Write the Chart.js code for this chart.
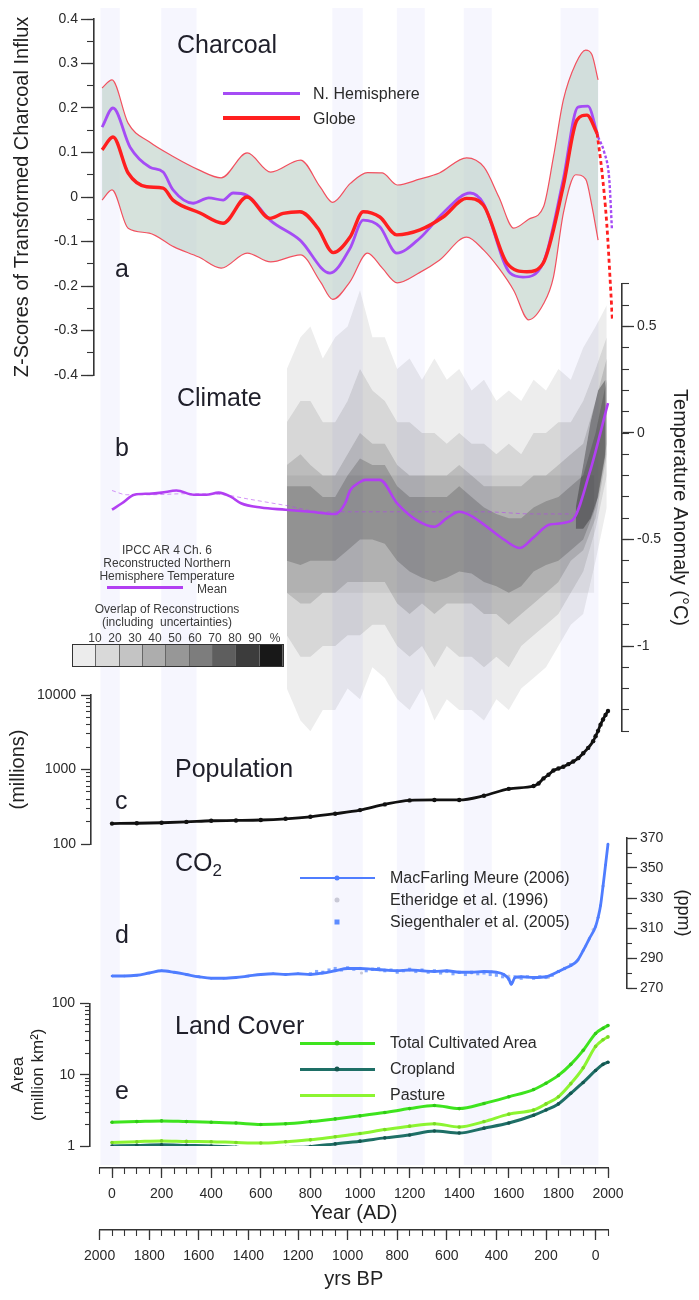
<!DOCTYPE html>
<html>
<head>
<meta charset="utf-8">
<title>Charcoal, climate, population, CO2 and land cover, 0-2000 AD</title>
<script src="https://cdn.jsdelivr.net/npm/chart.js@4.4.1/dist/chart.umd.min.js"></script>
<style>
  body { margin: 0; background: #fff; }
  #fig { position: relative; width: 699px; height: 1300px; overflow: hidden;
         font-family: "Liberation Sans", Arial, sans-serif; color: #1f1f2a; }
  #fig canvas { position: absolute; left: 0; }
  .t { position: absolute; white-space: nowrap; line-height: 1; transform: translateY(-50%); z-index: 5; }
  .big { font-size: 25px; }
  .leg { font-size: 16px; color: #2a2a2a; }
  .small { font-size: 12px; color: #3a3a3a; transform: translate(-50%, -50%); }
  .sw { position: absolute; z-index: 5; }
  .dot { position: absolute; z-index: 6; width: 5px; height: 5px; border-radius: 50%; transform: translate(-50%, -50%); }
  #bar { position: absolute; left: 72px; top: 644px; width: 210px; height: 21px; border: 1px solid #333; display: flex; z-index: 5; }
  #bar span { flex: 1; border-right: 1px solid #666; }
</style>
</head>
<body>
<div id="fig">
  <!-- panel titles and letters -->
  <div class="t big" style="left:177px; top:44px">Charcoal</div>
  <div class="t big" style="left:115px; top:268px">a</div>
  <div class="t big" style="left:177px; top:397px">Climate</div>
  <div class="t big" style="left:115px; top:447px">b</div>
  <div class="t big" style="left:175px; top:768px">Population</div>
  <div class="t big" style="left:115px; top:800px">c</div>
  <div class="t big" style="left:175px; top:864px">CO<sub style="font-size:17px; vertical-align:-5px">2</sub></div>
  <div class="t big" style="left:115px; top:934px">d</div>
  <div class="t big" style="left:175px; top:1025px">Land Cover</div>
  <div class="t big" style="left:115px; top:1090px">e</div>

  <!-- charcoal legend -->
  <div class="sw" style="left:223px; top:92px; width:77px; height:3px; background:#a54cf5"></div>
  <div class="t leg" style="left:313px; top:94px">N. Hemisphere</div>
  <div class="sw" style="left:223px; top:116px; width:77px; height:4px; background:#ff1f1f"></div>
  <div class="t leg" style="left:313px; top:119px">Globe</div>

  <!-- climate legend -->
  <div class="t small" style="left:167px; top:550px">IPCC AR 4 Ch. 6</div>
  <div class="t small" style="left:167px; top:563px">Reconstructed Northern</div>
  <div class="t small" style="left:167px; top:576px">Hemisphere Temperature</div>
  <div class="sw" style="left:107px; top:586px; width:76px; height:3px; background:#b23ff2"></div>
  <div class="t small" style="left:212px; top:589px">Mean</div>
  <div class="t small" style="left:167px; top:609px">Overlap of Reconstructions</div>
  <div class="t small" style="left:167px; top:622px">(including&nbsp; uncertainties)</div>
  <div id="barLabels"></div>
  <div id="bar"></div>

  <!-- CO2 legend -->
  <div class="sw" style="left:300px; top:877px; width:75px; height:2px; background:#4f7dff"></div>
  <div class="dot" style="left:337px; top:878px; background:#4f7dff"></div>
  <div class="t leg" style="left:390px; top:878px">MacFarling Meure (2006)</div>
  <div class="dot" style="left:337px; top:900px; background:#c9c9d6"></div>
  <div class="t leg" style="left:390px; top:900px">Etheridge et al. (1996)</div>
  <div class="dot" style="left:337px; top:922px; background:#5d8cff; border-radius:0"></div>
  <div class="t leg" style="left:390px; top:922px">Siegenthaler et al. (2005)</div>

  <!-- land cover legend -->
  <div class="sw" style="left:300px; top:1042px; width:75px; height:3px; background:#3ee41e"></div>
  <div class="dot" style="left:337px; top:1043px; background:#32c818"></div>
  <div class="t leg" style="left:390px; top:1043px">Total Cultivated Area</div>
  <div class="sw" style="left:300px; top:1068px; width:75px; height:3px; background:#1e6f66"></div>
  <div class="dot" style="left:337px; top:1069px; background:#14564f"></div>
  <div class="t leg" style="left:390px; top:1069px">Cropland</div>
  <div class="sw" style="left:300px; top:1094px; width:75px; height:3px; background:#8cf531"></div>
  <div class="t leg" style="left:390px; top:1095px">Pasture</div>
</div>

<script>
// shared horizontal mapping: year 0 AD at x = 112 px, 0.248 px per year
const X0 = 112, PXY = 0.248, W = 699;
const yearAt = px => (px - X0) / PXY;
const FONT = '"Liberation Sans", Arial, sans-serif';
const AXIS = '#353535';

// ---------- (a) charcoal ----------
const bandYears = [-40, 0, 65, 150, 250, 350, 440, 545, 640, 760, 840, 890, 960, 1030, 1090, 1150, 1240, 1320, 1430, 1500, 1560, 1620, 1680, 1740, 1780, 1820, 1870, 1910, 1935, 1960];
const bandUpper = [0.245, 0.263, 0.166, 0.124, 0.09, 0.061, 0.043, 0.099, 0.056, 0.083, 0.022, -0.012, 0.03, 0.055, 0.054, 0.027, 0.04, 0.054, 0.088, 0.067, 0.0, -0.07, -0.05, -0.022, 0.09, 0.218, 0.3, 0.33, 0.32, 0.263];
const bandLower = [-0.007, 0.016, -0.07, -0.081, -0.112, -0.135, -0.16, -0.126, -0.146, -0.13, -0.19, -0.23, -0.19, -0.126, -0.16, -0.193, -0.17, -0.142, -0.09, -0.12, -0.16, -0.21, -0.276, -0.24, -0.18, -0.036, 0.05, 0.04, -0.02, -0.097];
const globeYears = [-40, 4, 65, 140, 206, 246, 355, 448, 544, 637, 690, 758, 830, 892, 960, 1013, 1080, 1148, 1242, 1335, 1430, 1497, 1593, 1673, 1738, 1819, 1875, 1915, 1956];
const globeValues = [0.106, 0.135, 0.054, 0.023, 0.02, -0.007, -0.036, -0.059, 0.0, -0.048, -0.037, -0.033, -0.07, -0.125, -0.09, -0.033, -0.045, -0.085, -0.074, -0.045, -0.003, -0.018, -0.149, -0.168, -0.149, 0.023, 0.173, 0.184, 0.143];
const globeTailYears = [1956, 1975, 1995, 2010, 2018];
const globeTailValues = [0.143, 0.06, -0.06, -0.2, -0.28];
const nhYears = [-40, 4, 73, 153, 206, 246, 327, 390, 448, 488, 544, 637, 758, 879, 960, 1013, 1080, 1148, 1242, 1335, 1444, 1497, 1605, 1657, 1738, 1819, 1879, 1919, 1960];
const nhValues = [0.157, 0.2, 0.112, 0.067, 0.056, 0.016, -0.014, -0.002, -0.007, 0.009, 0.004, -0.052, -0.097, -0.171, -0.115, -0.052, -0.067, -0.126, -0.092, -0.036, 0.009, -0.014, -0.171, -0.18, -0.149, 0.038, 0.202, 0.204, 0.135];
const nhTailYears = [1960, 1985, 2005, 2016];
const nhTailValues = [0.135, 0.1, 0.04, -0.074];
const charcoalTicks = [-0.4, -0.3, -0.2, -0.1, 0, 0.1, 0.2, 0.3, 0.4];

// ---------- (b) climate ----------
const meanYears = [0, 40, 90, 150, 200, 260, 330, 380, 430, 480, 520, 600, 700, 800, 900, 940, 960, 1000, 1020, 1080, 1150, 1230, 1300, 1350, 1400, 1450, 1500, 1580, 1645, 1700, 1765, 1855, 1925, 2000];
const meanValues = [-0.36, -0.33, -0.29, -0.285, -0.28, -0.27, -0.29, -0.29, -0.28, -0.3, -0.33, -0.35, -0.36, -0.37, -0.38, -0.33, -0.27, -0.23, -0.22, -0.22, -0.33, -0.41, -0.44, -0.4, -0.37, -0.39, -0.43, -0.5, -0.54, -0.49, -0.43, -0.41, -0.19, 0.14];
const refYears = [0, 60, 150, 300, 450, 550, 700, 850, 960, 1200, 1500, 1700, 1860];
const refValues = [-0.27, -0.29, -0.29, -0.285, -0.29, -0.31, -0.34, -0.37, -0.37, -0.37, -0.37, -0.38, -0.38];
const shadeYears = [705, 760, 800, 850, 900, 950, 1000, 1050, 1100, 1150, 1200, 1250, 1300, 1350, 1400, 1450, 1500, 1550, 1600, 1650, 1700, 1750, 1800, 1850, 1900, 1950, 1995];
const shade1Hi = [0.3, 0.45, 0.5, 0.35, 0.45, 0.5, 0.67, 0.45, 0.45, 0.3, 0.35, 0.25, 0.35, 0.25, 0.3, 0.2, 0.25, 0.15, 0.2, 0.15, 0.25, 0.2, 0.3, 0.25, 0.4, 0.5, 0.6];
const shade1Lo = [-1.2, -1.35, -1.4, -1.3, -1.3, -1.2, -1.25, -1.1, -1.15, -1.25, -1.3, -1.2, -1.35, -1.25, -1.3, -1.3, -1.35, -1.25, -1.3, -1.2, -1.15, -1.1, -1.0, -0.9, -0.85, -0.6, -0.35];
const shade2Hi = [0.05, 0.15, 0.15, 0.05, 0.05, 0.15, 0.3, 0.2, 0.15, 0.05, 0.05, 0.0, 0.0, -0.05, 0.0, -0.05, -0.05, -0.1, -0.05, -0.1, 0.0, 0.0, 0.05, 0.05, 0.15, 0.3, 0.45];
const shade2Lo = [-0.95, -1.05, -1.05, -1.0, -1.0, -0.95, -0.95, -0.9, -0.9, -1.0, -1.05, -1.0, -1.1, -1.0, -1.05, -1.05, -1.1, -1.05, -1.1, -1.0, -0.95, -0.9, -0.85, -0.75, -0.65, -0.45, -0.2];
const shade3Hi = [-0.15, -0.1, -0.15, -0.2, -0.2, -0.1, 0.0, -0.05, -0.05, -0.15, -0.2, -0.2, -0.2, -0.2, -0.15, -0.2, -0.25, -0.25, -0.25, -0.25, -0.2, -0.2, -0.15, -0.1, -0.05, 0.15, 0.35];
const shade3Lo = [-0.75, -0.8, -0.8, -0.75, -0.75, -0.7, -0.7, -0.7, -0.7, -0.8, -0.85, -0.8, -0.85, -0.8, -0.8, -0.8, -0.85, -0.85, -0.9, -0.85, -0.8, -0.75, -0.7, -0.6, -0.55, -0.4, -0.1];
const shade4Hi = [-0.25, -0.25, -0.25, -0.3, -0.3, -0.2, -0.12, -0.15, -0.15, -0.25, -0.3, -0.3, -0.3, -0.3, -0.25, -0.3, -0.35, -0.38, -0.4, -0.4, -0.35, -0.32, -0.3, -0.25, -0.2, 0.0, 0.25];
const shade4Lo = [-0.6, -0.62, -0.6, -0.6, -0.6, -0.55, -0.5, -0.5, -0.52, -0.6, -0.65, -0.68, -0.7, -0.68, -0.65, -0.66, -0.7, -0.72, -0.75, -0.72, -0.65, -0.62, -0.6, -0.55, -0.5, -0.35, -0.05];
// darkest overlap just before 2000 AD
const coreYears = [1870, 1900, 1930, 1960, 1990];
const coreHi = [-0.35, -0.15, 0.05, 0.2, 0.25];
const coreLo = [-0.45, -0.45, -0.4, -0.3, -0.1];
// flat grey tone below -0.2 degC across the reconstruction period
const toneYears = [705, 1945];
const toneHi = [-0.2, -0.2];
const toneLo = [-0.75, -0.75];
const tempTicks = [-1, -0.5, 0, 0.5];
const overlapLabels = ['10', '20', '30', '40', '50', '60', '70', '80', '90', '%'];
const overlapGreys = ['#ececec', '#d9d9d9', '#c4c4c4', '#adadad', '#979797', '#7d7d7d', '#5e5e5e', '#3c3c3c', '#181818'];

// ---------- (c) population (millions) ----------
const popYears = [0, 100, 200, 300, 400, 500, 600, 700, 800, 900, 1000, 1100, 1200, 1300, 1400, 1500, 1600, 1700, 1720, 1740, 1760, 1780, 1800, 1820, 1840, 1860, 1880, 1900, 1920, 1940, 1950, 1960, 1970, 1980, 1990, 2000];
const popValues = [188, 190, 193, 198, 205, 207, 210, 218, 232, 255, 285, 340, 385, 390, 390, 445, 550, 600, 650, 760, 850, 970, 1030, 1090, 1180, 1280, 1420, 1650, 1950, 2400, 2800, 3300, 4000, 4700, 5400, 6100];
const popTicks = [100, 1000, 10000];
const popMinorTicks = [200, 300, 400, 500, 600, 700, 800, 900, 2000, 3000, 4000, 5000, 6000, 7000, 8000, 9000];

// ---------- (d) CO2 (ppm) ----------
const co2Years = [0, 50, 100, 150, 200, 250, 300, 350, 400, 450, 500, 550, 600, 650, 700, 750, 800, 850, 900, 950, 1000, 1050, 1100, 1150, 1200, 1250, 1300, 1350, 1400, 1450, 1500, 1550, 1580, 1600, 1610, 1625, 1650, 1700, 1750, 1800, 1825, 1850, 1875, 1900, 1925, 1950, 1960, 1970, 1980, 1990, 2000];
const co2Values = [278, 278, 278.5, 280, 281.5, 280.5, 279, 277.5, 276.5, 276.5, 277, 278, 279, 279.5, 279, 279.5, 279, 280, 281.5, 283, 283, 282.5, 282, 281.5, 282, 281.5, 281, 281.5, 280.5, 280.5, 281, 280.5, 279, 276, 272.5, 277, 277.5, 277, 277.5, 281, 283, 285, 288, 295, 303, 311, 317, 325, 338, 352, 366];
const siegYears = [800, 825, 850, 875, 900, 925, 950, 975, 1000, 1025, 1050, 1075, 1100, 1125, 1150, 1175, 1200, 1225, 1250, 1275, 1300, 1325, 1350, 1375, 1400, 1425, 1450, 1475, 1500, 1525, 1550, 1575, 1600, 1625, 1650, 1675, 1700, 1725, 1750, 1775, 1800, 1825, 1850];
const siegValues = [279.5, 281, 280.5, 282, 283, 282, 283.5, 282.5, 283, 281.5, 282.5, 283, 281.5, 282, 280.5, 281.5, 282.5, 281, 282, 280.5, 281.5, 280, 281, 279.5, 280.5, 279, 280.5, 279.5, 280, 279, 278.5, 277.5, 276, 277.5, 276.5, 277.5, 276.5, 277.5, 277, 278.5, 281, 283, 285.5];
const ethYears = [1006, 1080, 1200, 1330, 1450, 1530, 1600, 1640, 1700, 1760, 1800, 1850, 1880, 1910, 1940, 1960, 1980];
const ethValues = [280, 282, 282, 281, 280, 281, 278, 277, 277, 277, 281, 285, 289, 298, 309, 317, 338];
const co2Ticks = [270, 290, 310, 330, 350, 370];

// ---------- (e) land cover (million km2) ----------
const landYears = [0, 100, 200, 300, 400, 500, 600, 700, 800, 900, 1000, 1100, 1200, 1300, 1400, 1500, 1600, 1700, 1750, 1800, 1850, 1900, 1950, 1980, 2000];
const totalArea = [2.15, 2.2, 2.25, 2.2, 2.15, 2.1, 2.0, 2.05, 2.2, 2.4, 2.65, 2.95, 3.35, 3.7, 3.35, 3.95, 4.9, 6.2, 7.6, 9.8, 14, 22, 38, 45, 49];
const pastureArea = [1.12, 1.15, 1.18, 1.16, 1.15, 1.12, 1.1, 1.15, 1.22, 1.35, 1.5, 1.7, 1.9, 2.05, 1.85, 2.2, 2.8, 3.2, 3.9, 4.9, 7.5, 12.5, 25, 31, 34];
const croplandArea = [1.0, 1.02, 1.04, 1.02, 1.0, 0.96, 0.92, 0.95, 0.98, 1.07, 1.17, 1.3, 1.43, 1.62, 1.52, 1.78, 2.1, 2.7, 3.2, 3.9, 5.5, 7.8, 11.5, 14, 15];
const landTicks = [1, 10, 100];
const landMinorTicks = [2, 3, 4, 5, 6, 7, 8, 9, 20, 30, 40, 50, 60, 70, 80, 90];

// ---------- time axes and background stripes ----------
const yearTicks = [0, 200, 400, 600, 800, 1000, 1200, 1400, 1600, 1800, 2000];
const bpTicks = [2000, 1800, 1600, 1400, 1200, 1000, 800, 600, 400, 200, 0];
const stripeStart = [-45, 200, 890, 1150, 1420, 1810];
const stripeEnd = [30, 340, 1010, 1260, 1530, 1960];

// ---------- helpers ----------
const fig = document.getElementById('fig');
const xy = (xs, ys) => xs.map((x, i) => ({ x: x, y: ys[i] }));

function makeChart(top, height, config) {
  const c = document.createElement('canvas');
  c.width = W; c.height = height;
  c.style.width = W + 'px'; c.style.height = height + 'px';
  c.style.top = top + 'px';
  fig.appendChild(c);
  config.options = Object.assign({
    responsive: false, animation: false, devicePixelRatio: 1,
    plugins: { legend: { display: false }, tooltip: { enabled: false } }
  }, config.options);
  return new Chart(c.getContext('2d'), config);
}

function hiddenX(left, right) {
  return { type: 'linear', display: false, min: yearAt(left), max: yearAt(right) };
}

function majorAxis(o) {
  return {
    type: o.type || 'linear', position: o.position, min: o.min, max: o.max,
    reverse: !!o.reverse, weight: o.weight || 1,
    afterFit: s => { if (s.isHorizontal()) s.height = o.size; else s.width = o.size; },
    afterBuildTicks: s => { s.ticks = o.ticks.map(v => ({ value: v })); },
    ticks: { color: '#2a2a2a', font: { family: FONT, size: 14 }, padding: o.pad || 3, autoSkip: false, maxRotation: 0, callback: v => String(v) },
    grid: { drawOnChartArea: false, drawTicks: true, tickLength: o.tl, tickColor: AXIS, tickWidth: 1.3 },
    border: { display: true, color: AXIS, width: 1.6 },
    title: o.title ? { display: true, text: o.title, color: '#222', font: { family: FONT, size: o.titleSize || 20 }, padding: o.titlePad } : { display: false }
  };
}

function minorAxis(o) {
  const ax = {
    type: o.type || 'linear', position: o.position, min: o.min, max: o.max,
    reverse: !!o.reverse, weight: o.weight || 0,
    afterFit: s => { if (s.isHorizontal()) s.height = 0; else s.width = 0; },
    ticks: { display: false, stepSize: o.step },
    grid: { drawOnChartArea: false, drawTicks: true, tickLength: o.tl, tickColor: AXIS, tickWidth: 1.1 },
    border: { display: false }
  };
  if (o.list) ax.afterBuildTicks = s => { s.ticks = o.list.map(v => ({ value: v })); };
  return ax;
}

// order: datasets with a higher order are painted first (underneath)
function line(data, color, width, extra) {
  return Object.assign({ data: data, borderColor: color, borderWidth: width, pointRadius: 0, fill: false, cubicInterpolationMode: 'monotone', order: 0 }, extra || {});
}

// ---------- background stripes ----------
makeChart(0, 1300, {
  type: 'bar',
  data: {
    labels: ['stripes'],
    datasets: stripeStart.map((s, i) => ({ data: [[s, stripeEnd[i]]], backgroundColor: 'rgba(200,200,250,0.17)', borderWidth: 0, grouped: false, barPercentage: 1, categoryPercentage: 1 }))
  },
  options: {
    indexAxis: 'y',
    layout: { padding: { left: 0, right: 0, top: 8, bottom: 135 } },
    scales: { x: hiddenX(0, W), y: { type: 'category', display: false } }
  }
});

// ---------- (b) climate ----------
function shade(xs, hi, lo, alpha, order) {
  return [
    line(xy(xs, lo), 'rgba(0,0,0,0)', 0, { cubicInterpolationMode: 'default', tension: 0, order: order }),
    line(xy(xs, hi), 'rgba(0,0,0,0)', 0, { cubicInterpolationMode: 'default', tension: 0, order: order, fill: '-1', backgroundColor: 'rgba(20,20,20,' + alpha + ')' })
  ];
}
makeChart(250, 510, {
  type: 'line',
  data: {
    datasets: [].concat(
      shade(shadeYears, shade1Hi, shade1Lo, 0.08, 16),
      shade(shadeYears, shade2Hi, shade2Lo, 0.10, 15),
      shade(toneYears, toneHi, toneLo, 0.06, 14),
      shade(shadeYears, shade3Hi, shade3Lo, 0.14, 13),
      shade(shadeYears, shade4Hi, shade4Lo, 0.2, 12),
      shade(coreYears, coreHi, coreLo, 0.35, 11),
      [line(xy(refYears, refValues), 'rgba(178,63,242,0.55)', 1, { borderDash: [4, 3], order: 1 }),
       line(xy(meanYears, meanValues), '#b23ff2', 2.6, { order: 0 })]
    )
  },
  options: {
    layout: { padding: { left: 100, right: 0, top: 33.9, bottom: 28.8 } },
    scales: {
      x: hiddenX(100, 622),
      y: majorAxis({ position: 'right', min: -1.4, max: 0.7, ticks: tempTicks, size: 77, tl: 12, title: 'Temperature Anomaly (°C)', titlePad: { top: 7, bottom: 0 } }),
      ym: minorAxis({ position: 'right', min: -1.4, max: 0.7, step: 0.1, tl: 7 })
    }
  }
});

// ---------- (a) charcoal ----------
makeChart(0, 400, {
  type: 'line',
  data: {
    datasets: [
      line(xy(bandYears, bandLower), '#f2505f', 1.2, { order: 5 }),
      line(xy(bandYears, bandUpper), '#f2505f', 1.2, { order: 5, fill: '-1', backgroundColor: 'rgba(186,206,196,0.6)' }),
      line(xy(nhYears, nhValues), '#a54cf5', 2.8, { order: 1 }),
      line(xy(nhTailYears, nhTailValues), '#a54cf5', 2.4, { order: 1, borderDash: [3, 2] }),
      line(xy(globeYears, globeValues), '#ff1f1f', 3.4, { order: 0 }),
      line(xy(globeTailYears, globeTailValues), '#ff1f1f', 2.8, { order: 0, borderDash: [4, 3] })
    ]
  },
  options: {
    layout: { padding: { left: 0, right: W - 613, top: 19, bottom: 25 } },
    scales: {
      x: hiddenX(94, 613),
      y: majorAxis({ position: 'left', min: -0.4, max: 0.4, ticks: charcoalTicks, size: 94, tl: 13, title: 'Z-Scores of Transformed Charcoal Influx', titlePad: { top: 10, bottom: 0 } }),
      ym: minorAxis({ position: 'left', min: -0.4, max: 0.4, step: 0.05, tl: 7 })
    }
  }
});

// ---------- (c) population ----------
makeChart(670, 190, {
  type: 'line',
  data: {
    datasets: [line(xy(popYears, popValues), '#111', 2.8, { pointRadius: 2.2, pointBackgroundColor: '#111', pointBorderWidth: 0 })]
  },
  options: {
    layout: { padding: { left: 0, right: W - 613, top: 25, bottom: 16 } },
    scales: {
      x: hiddenX(91, 613),
      y: majorAxis({ type: 'logarithmic', position: 'left', min: 100, max: 10000, ticks: popTicks, size: 91, tl: 10, pad: 5, title: '(millions)', titlePad: { top: 6, bottom: 0 } }),
      ym: minorAxis({ type: 'logarithmic', position: 'left', min: 100, max: 10000, list: popMinorTicks, tl: 5 })
    }
  }
});

// ---------- (d) CO2 ----------
makeChart(820, 190, {
  type: 'line',
  data: {
    datasets: [
      line(xy(ethYears, ethValues), '#c9c9d6', 0, { order: 2, showLine: false, pointRadius: 1.6, pointBackgroundColor: '#c9c9d6', pointBorderWidth: 0 }),
      line(xy(siegYears, siegValues), '#6f9bff', 0, { order: 1, showLine: false, pointStyle: 'rect', pointRadius: 2.2, pointBackgroundColor: 'rgba(93,140,255,0.75)', pointBorderWidth: 0 }),
      line(xy(co2Years, co2Values), '#4f7dff', 2.8, { order: 0, pointRadius: 1.3, pointBackgroundColor: '#4f7dff', pointBorderWidth: 0 })
    ]
  },
  options: {
    layout: { padding: { left: 100, right: 0, top: 18, bottom: 22 } },
    scales: {
      x: hiddenX(100, 627),
      y: majorAxis({ position: 'right', min: 270, max: 370, ticks: co2Ticks, size: 72, tl: 10, title: '(ppm)', titleSize: 18, titlePad: { top: 5, bottom: 0 } }),
      ym: minorAxis({ position: 'right', min: 270, max: 370, step: 10, tl: 5 })
    }
  }
});

// ---------- (e) land cover ----------
makeChart(985, 180, {
  type: 'line',
  data: {
    datasets: [
      line(xy(landYears, croplandArea), '#1e6f66', 3, { pointRadius: 1.8, pointBackgroundColor: '#14564f', pointBorderWidth: 0 }),
      line(xy(landYears, pastureArea), '#8cf531', 3, { pointRadius: 1.8, pointBackgroundColor: '#7ad826', pointBorderWidth: 0 }),
      line(xy(landYears, totalArea), '#3ee41e', 3, { pointRadius: 1.8, pointBackgroundColor: '#32c818', pointBorderWidth: 0 })
    ]
  },
  options: {
    layout: { padding: { left: 0, right: W - 613, top: 18.5, bottom: 19 } },
    scales: {
      x: hiddenX(90, 613),
      y: majorAxis({ type: 'logarithmic', position: 'left', min: 1, max: 100, ticks: landTicks, size: 90, tl: 10, pad: 5, title: ['Area', '(million km²)'], titleSize: 17, titlePad: { top: 8, bottom: 0 } }),
      ym: minorAxis({ type: 'logarithmic', position: 'left', min: 1, max: 100, list: landMinorTicks, tl: 5 })
    }
  }
});

// ---------- time axes: Year (AD) and yrs BP ----------
makeChart(1150, 150, {
  type: 'line',
  data: { datasets: [] },
  options: {
    layout: { padding: { left: X0 - 50 * PXY, right: W - (X0 + 2000 * PXY), top: 5, bottom: 0 } },
    scales: {
      x: majorAxis({ position: 'bottom', min: -50, max: 2000, ticks: yearTicks, size: 62, tl: 10, pad: 8, weight: 1, title: 'Year (AD)', titlePad: { top: 0, bottom: 5 } }),
      xm: minorAxis({ position: 'bottom', min: -50, max: 2000, step: 50, tl: 6, weight: 0 }),
      bp: majorAxis({ position: 'bottom', min: -50, max: 2000, reverse: true, ticks: bpTicks, size: 70, tl: 10, pad: 8, weight: 3, title: 'yrs BP', titlePad: { top: 0, bottom: 9 } }),
      bpm: minorAxis({ position: 'bottom', min: -50, max: 2000, reverse: true, step: 50, tl: 6, weight: 2 }),
      y: { display: false }
    }
  }
});

// ---------- climate legend colour bar ----------
const bar = document.getElementById('bar');
overlapGreys.forEach(g => { const s = document.createElement('span'); s.style.background = g; bar.appendChild(s); });
const barLabels = document.getElementById('barLabels');
overlapLabels.forEach((txt, i) => {
  const d = document.createElement('div');
  d.className = 't small';
  d.style.left = (95 + i * 20) + 'px';
  d.style.top = '638px';
  d.textContent = txt;
  barLabels.appendChild(d);
});
</script>
</body>
</html>
